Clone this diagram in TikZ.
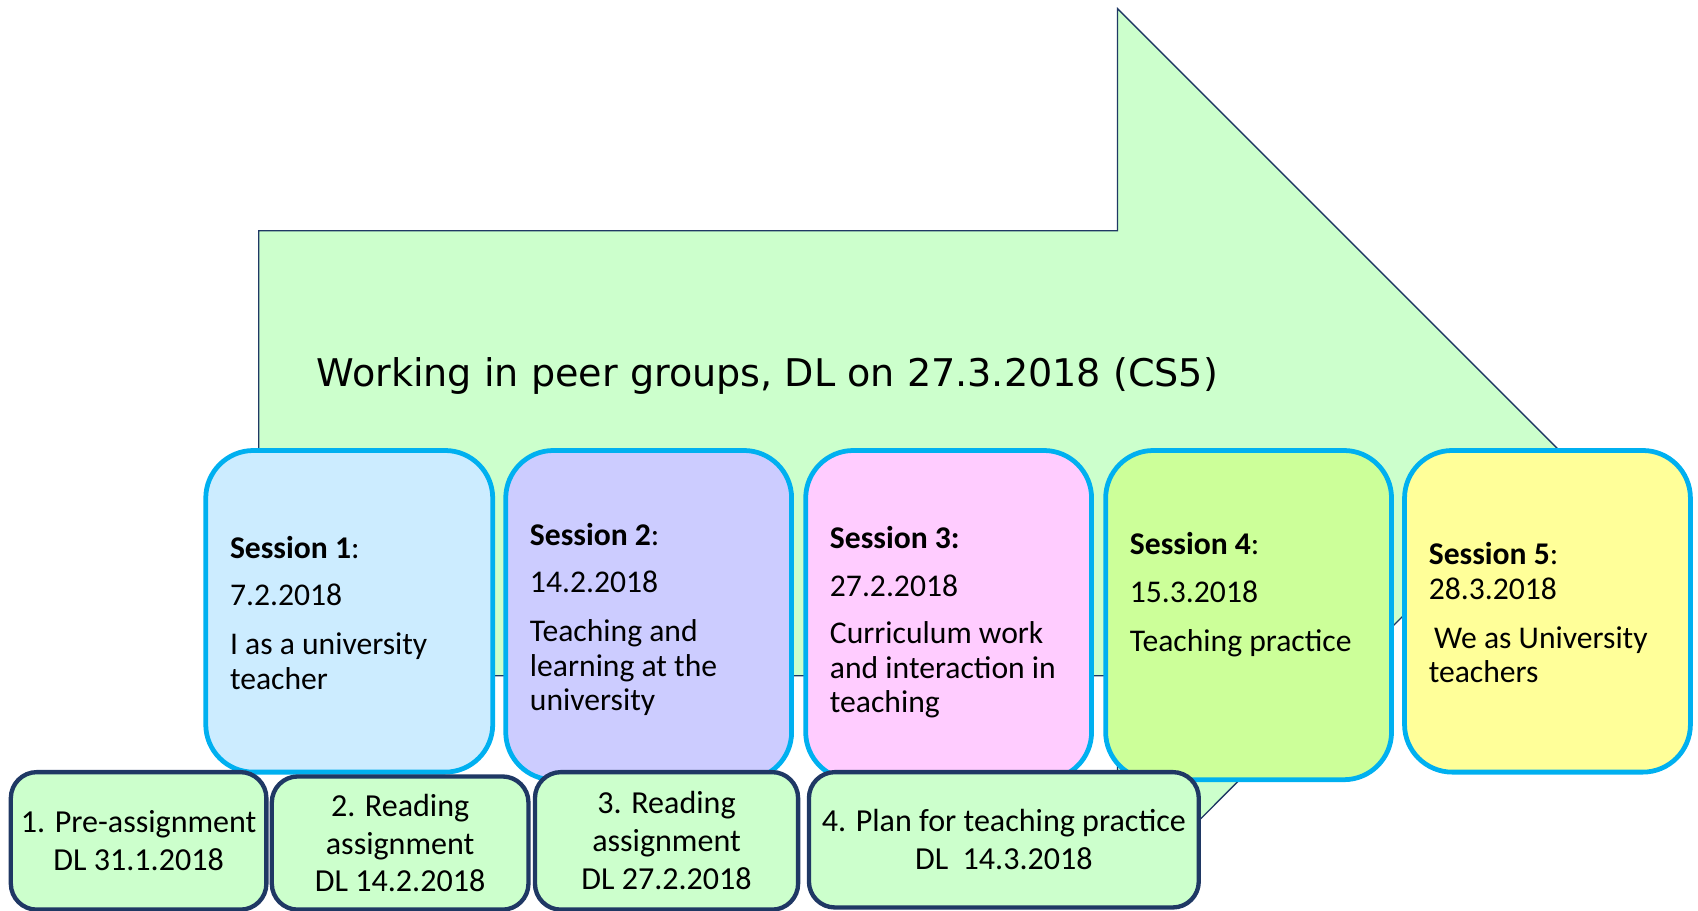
\documentclass[tikz,border=0pt]{standalone}
\usepackage{fontspec}
\setmainfont{Carlito}
\newfontfamily\headfont{DejaVu Sans}
\definecolor{arrowfill}{HTML}{CCFFCC}
\definecolor{arrowline}{HTML}{1F3864}
\definecolor{cyanb}{HTML}{00B0F0}
\definecolor{sone}{HTML}{CCECFF}
\definecolor{stwo}{HTML}{CCCCFF}
\definecolor{sthree}{HTML}{FFCCFF}
\definecolor{sfour}{HTML}{CCFF99}
\definecolor{sfive}{HTML}{FFFF99}
\definecolor{bline}{HTML}{1F3864}
\begin{document}
\begin{tikzpicture}[x=0.5pt,y=-0.5pt,
  sess/.style={draw=cyanb, line width=2.2pt, rounded corners=22pt, inner sep=0pt},
  sesstext/.style={anchor=north west, inner sep=0pt, align=left, font=\fontsize{14.6}{16}\selectfont},
  assign/.style={draw=bline, fill=arrowfill, line width=2pt, rounded corners=12pt, inner sep=0pt, align=center, font=\fontsize{14.8}{17.5}\selectfont},
  bigarrow/.style={draw=arrowline, fill=arrowfill, line width=0.6pt}]
\useasboundingbox (0,0) rectangle (1568,841);
% big arrow
\coordinate (a1) at (239,213);
\coordinate (a2) at (1032,213);
\coordinate (a3) at (1032,8);
\coordinate (a4) at (1444,420);
\coordinate (a5) at (1032,833);
\coordinate (a6) at (1032,624);
\coordinate (a7) at (239,624);
\draw[bigarrow] (a1) -- (a2) -- (a3) -- (a4) -- (a5) -- (a6) -- (a7) -- cycle;
\node[anchor=west, inner sep=0pt, font=\headfont\fontsize{17.6}{21}\selectfont] (head) at (292,347) {Working in peer groups, DL on 27.3.2018 (CS5)};
% sessions
\node[sess, fill=sone, minimum width=132.5pt, minimum height=148.5pt] (s1) at (322.5,564.5) {};
\node[sess, fill=stwo, minimum width=132pt, minimum height=152pt] (s2) at (599,568) {};
\node[sess, fill=sthree, minimum width=132pt, minimum height=152pt] (s3) at (876,568) {};
\node[sess, fill=sfour, minimum width=132pt, minimum height=152pt] (s4) at (1153,568) {};
\node[sess, fill=sfive, minimum width=132pt, minimum height=148.5pt] (s5) at (1429,564.5) {};
\node[sesstext] (t1) at (212,494.5) {\textbf{Session 1}:\\[6pt] 7.2.2018\\[6.5pt] I as a university\\ teacher};
\node[sesstext] (t2) at (489,482.5) {\textbf{Session 2}:\\[6pt] 14.2.2018\\[6.5pt] Teaching and\\ learning at the\\ university};
\node[sesstext] (t3) at (766,485.5) {\textbf{Session 3:}\\[6pt] 27.2.2018\\[6pt] Curriculum work\\ and interaction in\\ teaching};
\node[sesstext] (t4) at (1043,491.5) {\textbf{Session 4}:\\[6pt] 15.3.2018\\[6.5pt] Teaching practice};
\node[sesstext] (t5) at (1319,500.5) {\textbf{Session 5}:\\ 28.3.2018\\[6.5pt] \hspace{2.5pt}We as University\\ teachers};
% assignments
\node[assign, minimum width=118pt, minimum height=63.5pt] (b1) at (128,776.5) {1. Pre-assignment\\ DL 31.1.2018};
\node[assign, minimum width=118.5pt, minimum height=61.5pt] (b2) at (369.5,778.5) {2. Reading\\ assignment\\ DL 14.2.2018};
\node[assign, minimum width=121.5pt, minimum height=63.5pt] (b3) at (615.5,776.5) {3. Reading\\ assignment\\ DL 27.2.2018};
\node[assign, minimum width=180pt, minimum height=62.5pt] (b4) at (927,775.5) {4. Plan for teaching practice\\ DL\ \ 14.3.2018};
\end{tikzpicture}
\end{document}
